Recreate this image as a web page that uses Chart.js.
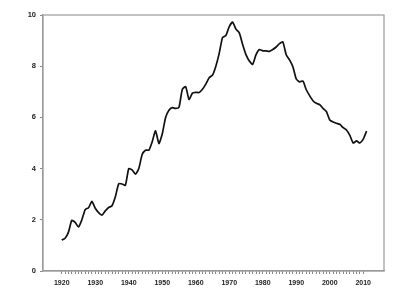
<!DOCTYPE html>
<html>
<head>
<meta charset="utf-8">
<script src="https://cdn.jsdelivr.net/npm/chart.js@4/dist/chart.umd.min.js"></script>
<style>
  html, body { margin: 0; padding: 0; background: #ffffff; }
  #c { display: block; }
</style>
</head>
<body>
<canvas id="c" width="400" height="303"></canvas>
<script>
// ---- Data ----
const firstYear = 1920;
const values = [
  1.21, 1.28, 1.52, 1.98, 1.90, 1.72, 2.00, 2.40, 2.47, 2.72, // 1920-1929
  2.45, 2.28, 2.18, 2.35, 2.48, 2.55, 2.90, 3.40, 3.40, 3.35, // 1930-1939
  4.00, 3.95, 3.78, 4.00, 4.55, 4.72, 4.72, 5.05, 5.48, 4.98, // 1940-1949
  5.35, 6.00, 6.28, 6.38, 6.35, 6.40, 7.10, 7.20, 6.70, 6.95, // 1950-1959
  6.98, 6.97, 7.10, 7.30, 7.55, 7.65, 8.00, 8.50, 9.12, 9.20, // 1960-1969
  9.55, 9.72, 9.45, 9.30, 8.85, 8.45, 8.20, 8.07, 8.45, 8.65, // 1970-1979
  8.60, 8.60, 8.58, 8.65, 8.75, 8.88, 8.95, 8.45, 8.25, 7.98, // 1980-1989
  7.50, 7.39, 7.42, 7.08, 6.85, 6.65, 6.55, 6.50, 6.35, 6.23, // 1990-1999
  5.90, 5.82, 5.77, 5.73, 5.60, 5.51, 5.30, 5.00, 5.08, 5.00, // 2000-2009
  5.15, 5.47                                                  // 2010-2011
];
const years = values.map((_, i) => firstYear + i);

const xLabelYears = [1920, 1930, 1940, 1950, 1960, 1970, 1980, 1990, 2000, 2010];
const xMinorFrom = 1920;
const xMinorTo = 2010;
const yTickValues = [0, 2, 4, 6, 8, 10];

// ---- Chart ----
const framePlugin = {
  id: 'frame',
  afterDraw(chart) {
    const { ctx, chartArea: a } = chart;
    ctx.save();
    ctx.strokeStyle = '#9a9a9a';
    ctx.lineWidth = 1.2;
    ctx.strokeRect(a.left, a.top, a.right - a.left, a.bottom - a.top);
    ctx.restore();
  }
};

const tickFont = { family: "'Liberation Sans', Arial, sans-serif", size: 7, weight: 'bold' };

new Chart(document.getElementById('c'), {
  type: 'line',
  data: {
    datasets: [{
      data: years.map((y, i) => ({ x: y, y: values[i] })),
      borderColor: '#111111',
      borderWidth: 1.7,
      pointRadius: 0,
      tension: 0.18,
      fill: false
    }]
  },
  options: {
    responsive: false,
    animation: false,
    layout: { padding: { top: 15, right: 16, left: 0, bottom: 0 } },
    plugins: { legend: { display: false }, tooltip: { enabled: false } },
    scales: {
      x: {
        type: 'linear',
        min: 1914.4,
        max: 2016.2,
        afterBuildTicks: s => {
          const t = [];
          for (let v = xMinorFrom; v <= xMinorTo; v++) t.push({ value: v });
          s.ticks = t;
        },
        afterFit: s => { s.height = 32; },
        grid: { drawOnChartArea: false, drawTicks: true, tickLength: 3, color: '#8a8a8a', lineWidth: 1 },
        border: { display: true, color: '#9a9a9a', width: 1.2 },
        ticks: {
          autoSkip: false,
          maxRotation: 0,
          padding: 5,
          color: '#222222',
          font: tickFont,
          callback: v => xLabelYears.includes(v) ? String(v) : ''
        }
      },
      y: {
        min: 0,
        max: 10,
        afterBuildTicks: s => { s.ticks = yTickValues.map(v => ({ value: v })); },
        afterFit: s => { s.width = 43; },
        grid: { drawOnChartArea: false, drawTicks: true, tickLength: 3, color: '#8a8a8a', lineWidth: 1 },
        border: { display: true, color: '#9a9a9a', width: 1.2 },
        ticks: {
          padding: 4,
          color: '#222222',
          font: { family: "'Liberation Sans', Arial, sans-serif", size: 7.5, weight: 'bold' },
          callback: v => String(v)
        }
      }
    }
  },
  plugins: [framePlugin]
});
</script>
</body>
</html>
